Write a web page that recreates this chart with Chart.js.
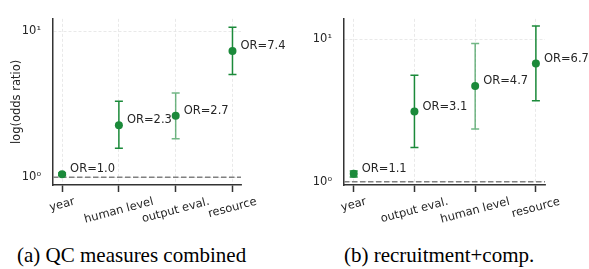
<!DOCTYPE html>
<html lang="en">
<head>
<meta charset="UTF-8">
<title>Odds ratios</title>
<script src="https://cdn.jsdelivr.net/npm/chart.js@4.4.0/dist/chart.umd.min.js"></script>
<style>
    body { margin: 0; background: #fff; width: 589px; height: 269px; position: relative; overflow: hidden; }
    canvas { position: absolute; top: 0; }
    #c1 { left: 0; }
    #c2 { left: 290px; }
    .cap { position: absolute; top: 245px; font-family: "Liberation Serif", serif; font-size: 21px; line-height: 21px; color: #000; white-space: nowrap; }
</style>
</head>
<body>
<canvas id="c1" width="290" height="230"></canvas>
<canvas id="c2" width="299" height="230"></canvas>
<div class="cap" style="left:17px">(a) QC measures combined</div>
<div class="cap" style="left:344px">(b) recruitment+comp.</div>

<script>
// panel (a): QC measures combined
const labelsA = ['year', 'human level', 'output eval.', 'resource']
const orA = [1.05, 2.28, 2.64, 7.35]
const loA = [1.03, 1.58, 1.84, 5.08]
const hiA = [1.07, 3.32, 3.79, 10.7]
const textA = ['OR=1.0', 'OR=2.3', 'OR=2.7', 'OR=7.4']

// panel (b): recruitment+comp.
const labelsB = ['year', 'output eval.', 'human level', 'resource']
const orB = [1.14, 3.11, 4.70, 6.75]
const loB = [1.08, 1.74, 2.35, 3.70]
const hiB = [1.19, 5.60, 9.35, 12.4]
const textB = ['OR=1.1', 'OR=3.1', 'OR=4.7', 'OR=6.7']

const yTicks = [1, 10]

const green = '#1b8a3a'
const greenFaded = 'rgba(27,138,58,0.62)'
const ink = '#262626'
const gridColor = '#e3e3e3'
const font = 'DejaVu Sans'
const fontSize = 11.5
const sup = { 0: '\u2070', 1: '\u00b9' }

function extrasPlugin(labels, lo, hi, text, faded) {
    return {
        id: 'extras',
        beforeDatasetsDraw(chart) {
            const ctx = chart.ctx
            const xs = chart.scales.x, ys = chart.scales.y
            const area = chart.chartArea
            // reference line at OR = 1
            ctx.save()
            ctx.strokeStyle = '#808080'
            ctx.lineWidth = 1.5
            ctx.setLineDash([5.5, 2.5])
            const y1 = ys.getPixelForValue(1)
            ctx.beginPath()
            ctx.moveTo(area.left, y1)
            ctx.lineTo(area.right, y1)
            ctx.stroke()
            ctx.restore()
            // error bars
            ctx.save()
            ctx.lineWidth = 1.5
            for (let i = 0; i < lo.length; i++) {
                ctx.strokeStyle = i === faded ? greenFaded : green
                const x = xs.getPixelForValue(i)
                const yl = ys.getPixelForValue(lo[i])
                const yh = ys.getPixelForValue(hi[i])
                ctx.beginPath()
                ctx.moveTo(x, yl); ctx.lineTo(x, yh)
                ctx.moveTo(x - 4, yl); ctx.lineTo(x + 4, yl)
                ctx.moveTo(x - 4, yh); ctx.lineTo(x + 4, yh)
                ctx.stroke()
            }
            ctx.restore()
        },
        afterDraw(chart) {
            const ctx = chart.ctx
            const xs = chart.scales.x, ys = chart.scales.y
            const area = chart.chartArea
            const data = chart.data.datasets[0].data
            ctx.save()
            ctx.fillStyle = ink
            ctx.font = fontSize + 'px "' + font + '"'
            // OR annotations
            ctx.textAlign = 'left'
            ctx.textBaseline = 'alphabetic'
            for (let i = 0; i < text.length; i++) {
                const x = xs.getPixelForValue(data[i].x)
                const y = ys.getPixelForValue(data[i].y)
                ctx.fillText(text[i], x + 8, y - 2)
            }
            // rotated category labels, centred under the ticks
            const ang = 15 * Math.PI / 180
            ctx.textAlign = 'center'
            ctx.textBaseline = 'middle'
            for (let i = 0; i < labels.length; i++) {
                const w = ctx.measureText(labels[i]).width
                const h = fontSize * 1.17
                const H = w * Math.sin(ang) + h * Math.cos(ang)
                const x = xs.getPixelForValue(i)
                const y = area.bottom + 10 + H / 2
                ctx.save()
                ctx.translate(x, y)
                ctx.rotate(-ang)
                ctx.fillText(labels[i], 0, 0)
                ctx.restore()
            }
            ctx.restore()
        }
    }
}

function makeChart(id, labels, or, lo, hi, text, yMin, yMax, faded, showTitle, pad) {
    let c = document.getElementById(id).getContext('2d')
    return new Chart(c, {
        type: 'scatter',
        data: {
            datasets: [{
                data: or.map((v, i) => ({ x: i, y: v })),
                backgroundColor: green,
                borderColor: green,
                borderWidth: 0,
                pointRadius: 4,
                pointHoverRadius: 4
            }]
        },
        options: {
            responsive: false,
            animation: false,
            layout: { padding: { top: pad.top, right: pad.right, left: 0, bottom: 0 } },
            plugins: { legend: { display: false }, tooltip: { enabled: false } },
            scales: {
                x: {
                    type: 'linear',
                    min: -0.16,
                    max: 3.15,
                    afterBuildTicks: s => { s.ticks = labels.map((l, i) => ({ value: i })) },
                    afterFit: s => { s.height = 45 },
                    ticks: { display: false },
                    grid: { color: gridColor, lineWidth: 0.8, drawTicks: true, tickLength: 7, tickColor: '#333', tickWidth: 1.5 },
                    border: { color: '#333', width: 1.5, dash: [3, 2] }
                },
                y: {
                    type: 'logarithmic',
                    min: yMin,
                    max: yMax,
                    afterBuildTicks: s => { s.ticks = yTicks.map(v => ({ value: v })) },
                    afterFit: s => { s.width = pad.left },
                    ticks: {
                        padding: 12,
                        color: ink,
                        font: { family: font, size: fontSize },
                        callback: v => '10' + sup[Math.round(Math.log10(v))]
                    },
                    grid: { color: gridColor, lineWidth: 0.8, drawTicks: false },
                    border: { color: '#333', width: 1.5, dash: [3, 2] },
                    title: {
                        display: showTitle,
                        text: 'log(odds ratio)',
                        color: ink,
                        font: { family: font, size: fontSize },
                        padding: { top: 10, bottom: 0 }
                    }
                }
            }
        },
        plugins: [extrasPlugin(labels, lo, hi, text, faded)]
    })
}

makeChart('c1', labelsA, orA, loA, hiA, textA, 0.886, 12.2, 2, true, { top: 12, right: 49, left: 53 })
makeChart('c2', labelsB, orB, loB, hiB, textB, 0.95, 13.9, 2, false, { top: 12, right: 44, left: 54 })
</script>
</body>
</html>
